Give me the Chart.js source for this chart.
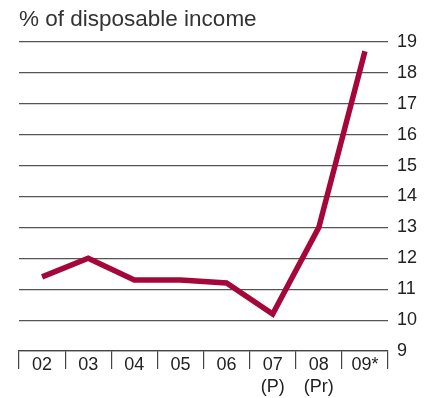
<!DOCTYPE html>
<html>
<head>
<meta charset="utf-8">
<script src="https://cdn.jsdelivr.net/npm/chart.js@4/dist/chart.umd.min.js"></script>
<style>
html,body{margin:0;padding:0;background:#fff;}
#wrap{width:425px;height:398px;position:relative;}
</style>
</head>
<body>
<div id="wrap"><canvas id="c" width="425" height="398"></canvas></div>
<script>
const categories = [['02'], ['03'], ['04'], ['05'], ['06'], ['07', '(P)'], ['08', '(Pr)'], ['09*']];
const savingRate = [11.4, 12.0, 11.3, 11.3, 11.2, 10.2, 13.0, 18.7];
const yTicks = [9, 10, 11, 12, 13, 14, 15, 16, 17, 18, 19];
const titleText = '% of disposable income';

const FONT = '"Liberation Sans", Arial, Helvetica, sans-serif';

new Chart(document.getElementById('c'), {
  type: 'line',
  data: {
    labels: categories,
    datasets: [{
      data: savingRate,
      borderColor: '#A6073B',
      borderWidth: 5.5,
      pointRadius: 0,
      tension: 0,
      fill: false
    }]
  },
  options: {
    responsive: false,
    animation: false,
    layout: { padding: { left: 19, right: 0, bottom: 0, top: 0 } },
    plugins: {
      legend: { display: false },
      tooltip: { enabled: false },
      title: {
        display: true,
        text: titleText,
        align: 'start',
        color: '#333',
        font: { family: FONT, size: 22.5, weight: 'normal' },
        padding: { top: 6, bottom: 9 }
      }
    },
    scales: {
      x: {
        type: 'category',
        offset: true,
        afterFit: (s) => { s.height = 47; },
        grid: {
          offset: true,
          drawOnChartArea: false,
          drawTicks: true,
          tickLength: 18,
          color: '#444',
          lineWidth: 1.2
        },
        border: { display: true, color: '#444', width: 1.2 },
        ticks: {
          color: '#222',
          font: { family: FONT, size: 18 },
          padding: -14.8,
          maxRotation: 0,
          autoSkip: false
        }
      },
      y: {
        position: 'right',
        min: 9,
        max: 19,
        afterBuildTicks: (s) => { s.ticks = yTicks.map(v => ({ value: v })); },
        afterFit: (s) => { s.width = 37; },
        grid: {
          drawTicks: false,
          color: '#555',
          lineWidth: 1.2
        },
        border: { display: false },
        ticks: {
          color: '#222',
          font: { family: FONT, size: 18 },
          padding: 9,
          align: 'center'
        }
      }
    }
  }
});
</script>
</body>
</html>
